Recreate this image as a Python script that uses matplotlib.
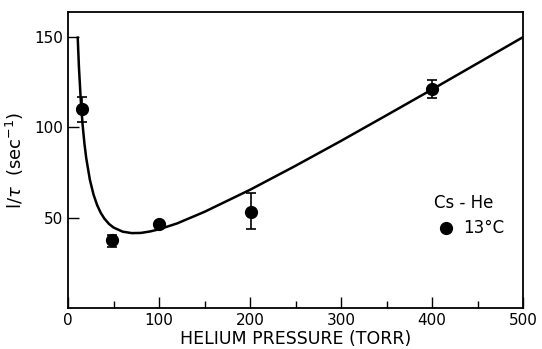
import matplotlib.pyplot as plt
import numpy as np

pressure = [15, 48, 100, 201, 400]
rate = [110, 37.5, 46.5, 53, 121]
err_lo = [7, 4, 1, 9.5, 5]
err_hi = [7, 3, 1, 10.5, 5]

# fitted curve
curve_p = [10.6, 12, 14, 16, 18, 20, 24, 28, 32, 36, 40, 45, 50, 60, 70, 80,
           90, 100, 120, 150, 200, 250, 300, 350, 400, 450, 500]
curve_r = [150.4, 133.3, 115.1, 101.6, 91.2, 83.0, 71.0, 62.8, 56.9, 52.6, 49.4,
           46.5, 44.5, 42.2, 41.4, 41.5, 42.3, 43.5, 46.8, 53.2, 65.4, 78.7,
           92.5, 106.7, 121.0, 135.5, 150.0]

fig = plt.figure(figsize=(5.42, 3.49), dpi=100)
ax = fig.add_axes([0.1255, 0.118, 0.8395, 0.848])

ax.plot(curve_p, curve_r, color='black', lw=1.8, solid_capstyle='butt')
ax.errorbar(pressure, rate, yerr=[err_lo, err_hi], fmt='o', color='black',
            ms=8.5, capsize=3.5, elinewidth=1.2, capthick=1.2)

ax.set_xlim(0, 500)
ax.set_ylim(0, 164)
ax.set_xticks([0, 100, 200, 300, 400, 500])
ax.set_xticks([50, 150, 250, 350, 450], minor=True)
ax.set_yticks([50, 100, 150])
ax.tick_params(which='major', direction='in', length=8, width=1, labelsize=11)
ax.tick_params(which='minor', direction='in', length=5, width=1)
for s in ax.spines.values():
    s.set_linewidth(1.3)

ax.set_xlabel('HELIUM PRESSURE (TORR)', fontsize=12.5, labelpad=2)
ax.set_ylabel(r'l/$\tau$  (sec$^{-1}$)', fontsize=13, labelpad=6)

# legend drawn as text
ax.text(402, 58, 'Cs - He', fontsize=12, ha='left', va='center')
ax.plot([415], [44.3], 'o', color='black', ms=8.5)
ax.text(434, 44.3, '13°C', fontsize=12, ha='left', va='center')

fig.savefig('out.png', dpi=100)
